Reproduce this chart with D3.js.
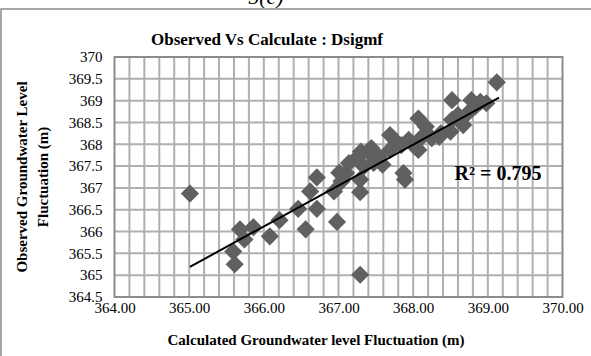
<!DOCTYPE html>
<html>
<head>
<meta charset="utf-8">
<script src="https://cdn.jsdelivr.net/npm/d3@7"></script>
<style>
  body { margin: 0; background: #fff; }
  svg { display: block; }
</style>
</head>
<body>
<div id="chart"></div>
<script>
// calculated (x) vs observed (y) groundwater level
const calcX = [365.01, 369.12, 367.29, 365.61, 365.59, 365.68, 365.74, 365.86, 366.08, 366.21,
  366.46, 366.56, 366.62, 366.71, 366.71, 366.98, 366.94, 367.04, 367.01, 367.14,
  367.29, 367.29, 367.30, 367.24, 367.39, 367.47, 367.59, 367.69, 367.69, 367.84,
  367.87, 367.89, 367.94, 368.07, 368.07, 368.17, 368.25, 368.37, 368.50, 368.52,
  368.60, 368.67, 368.73, 368.78, 368.90, 368.83, 368.98, 368.52, 367.77, 367.54,
  367.44, 368.02, 368.12, 368.35, 367.10, 367.34];
const obsY = [366.87, 369.42, 365.01, 365.25, 365.54, 366.05, 365.82, 366.10, 365.89, 366.26,
  366.52, 366.05, 366.92, 367.24, 366.52, 366.22, 366.92, 367.15, 367.35, 367.57,
  366.90, 367.19, 367.83, 367.68, 367.83, 367.57, 367.53, 368.21, 367.87, 367.98,
  367.34, 367.19, 368.10, 368.59, 367.87, 368.40, 368.14, 368.25, 368.29, 369.01,
  368.67, 368.44, 368.71, 369.01, 368.97, 368.86, 368.94, 368.56, 368.06, 367.72,
  367.91, 367.95, 368.17, 368.17, 367.34, 367.49];

// linear trendline end points
const trendX = [365.01, 369.15];
const trendY = [365.19, 369.07];
const rSquared = "R² = 0.795";

const xTicks = [364, 365, 366, 367, 368, 369, 370];
const xMinor = [364.2, 364.4, 364.6, 364.8, 365, 365.2, 365.4, 365.6, 365.8, 366, 366.2, 366.4,
  366.6, 366.8, 367, 367.2, 367.4, 367.6, 367.8, 368, 368.2, 368.4, 368.6, 368.8, 369, 369.2, 369.4,
  369.6, 369.8];
const yTicks = [364.5, 365, 365.5, 366, 366.5, 367, 367.5, 368, 368.5, 369, 369.5, 370];

const W = 591, H = 356;
const m = { left: 114.5, right: 28.5, top: 57, bottom: 59 };
const plotW = W - m.left - m.right, plotH = H - m.top - m.bottom;
const serif = 'Liberation Serif';

const svg = d3.select('#chart').append('svg')
  .attr('width', W).attr('height', H)
  .style('background', '#fff');

const x = d3.scaleLinear().domain([364, 370]).range([m.left, W - m.right]);
const y = d3.scaleLinear().domain([364.5, 370]).range([H - m.bottom, m.top]);

// grid as one path, vertical lines every 0.2 and horizontal every 0.5
const gridPath = d3.path();
xMinor.forEach(d => { gridPath.moveTo(x(d), m.top); gridPath.lineTo(x(d), m.top + plotH); });
yTicks.forEach(d => { gridPath.moveTo(m.left, y(d)); gridPath.lineTo(m.left + plotW, y(d)); });
svg.append('path')
  .attr('d', gridPath.toString())
  .attr('fill', 'none')
  .attr('stroke', '#b0b0b0')
  .attr('stroke-width', 2);

// plot frame
svg.append('path')
  .attr('d', `M${m.left},${m.top}H${m.left + plotW}V${m.top + plotH}H${m.left}Z`)
  .attr('fill', 'none').attr('stroke', '#8c8c8c').attr('stroke-width', 2);

// figure label, clipped by the top of the picture
svg.append('text')
  .attr('x', 266).attr('y', 4)
  .attr('text-anchor', 'middle')
  .attr('font-family', serif).attr('font-style', 'italic').attr('font-size', 22)
  .text('5(e)');

// outer chart border
svg.append('path')
  .attr('d', `M1,${H + 5}V9H${W + 5}`)
  .attr('fill', 'none').attr('stroke', '#8a8a8a').attr('stroke-width', 1.5);

// tick labels
const xAxis = svg.append('g')
  .attr('transform', `translate(0,${y(364.5)})`)
  .call(d3.axisBottom(x).tickValues(xTicks).tickFormat(d3.format('.2f')).tickSize(0).tickPadding(5.5));
const yAxis = svg.append('g')
  .attr('transform', `translate(${x(364)},0)`)
  .call(d3.axisLeft(y).tickValues(yTicks).tickFormat(d3.format('.1~f')).tickSize(0).tickPadding(12));
[xAxis, yAxis].forEach(a => {
  a.select('.domain').remove();
  a.attr('font-family', serif).attr('font-size', 15);
  a.selectAll('text').attr('font-family', serif).attr('font-size', 15).attr('fill', '#000');
});

// points
svg.append('g').selectAll('path')
  .data(calcX.map((v, i) => [v, obsY[i]]))
  .enter().append('path')
  .attr('d', d3.symbol().type(d3.symbolSquare).size(165))
  .attr('transform', d => `translate(${x(d[0])},${y(d[1])}) rotate(45)`)
  .attr('fill', '#606060');

// trendline
svg.append('line')
  .attr('x1', x(trendX[0])).attr('y1', y(trendY[0]))
  .attr('x2', x(trendX[1])).attr('y2', y(trendY[1]))
  .attr('stroke', '#000').attr('stroke-width', 2);

svg.append('text')
  .attr('x', 498).attr('y', 180)
  .attr('text-anchor', 'middle')
  .attr('font-family', serif).attr('font-weight', 'bold').attr('font-size', 20)
  .text(rSquared);

// titles
svg.append('text')
  .attr('x', 267).attr('y', 45)
  .attr('text-anchor', 'middle')
  .attr('font-family', serif).attr('font-weight', 'bold').attr('font-size', 17)
  .text('Observed Vs Calculate : Dsigmf');

svg.append('text')
  .attr('x', 316).attr('y', 345)
  .attr('text-anchor', 'middle')
  .attr('font-family', serif).attr('font-weight', 'bold').attr('font-size', 15)
  .text('Calculated Groundwater level Fluctuation (m)');

const yt = svg.append('text')
  .attr('transform', 'translate(0,177) rotate(-90)')
  .attr('text-anchor', 'middle')
  .attr('font-family', serif).attr('font-weight', 'bold').attr('font-size', 15);
yt.append('tspan').attr('x', 0).attr('y', 27).text('Observed Groundwater Level');
yt.append('tspan').attr('x', 0).attr('y', 48).text('Fluctuation (m)');
</script>
</body>
</html>
